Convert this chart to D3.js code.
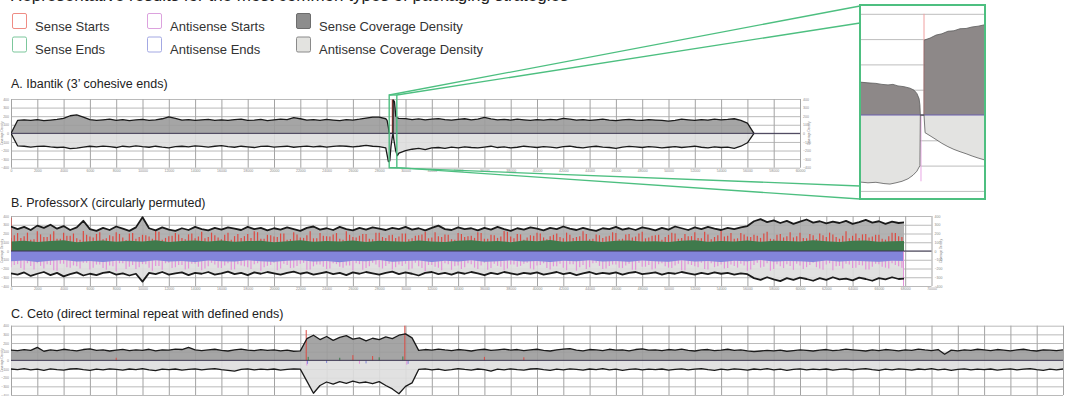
<!DOCTYPE html>
<meta charset="utf-8">
<script src="https://cdn.jsdelivr.net/npm/d3@7"></script>
<style>
body { margin: 0; background: #fff; }
text { font-family: Helvetica, Arial, "Liberation Sans", sans-serif; }
.grid .domain { display: none; }
.grid line { stroke: #9a9a9a; stroke-width: 0.8px; }
.grid text { font-size: 3.5px; fill: #8a8a8a; }
.ptitle { font-size: 12.5px; fill: #222; }
.legend text { font-size: 13px; fill: #333; }
</style>
<body>
<script>

// ---- data ----
var figureTitle = "Representative results for the most common types of packaging strategies";

var legendLabels = [
  ["Sense Starts", "Sense Ends"],
  ["Antisense Starts", "Antisense Ends"],
  ["Sense Coverage Density", "Antisense Coverage Density"]
];

var yTicks = [-400, -300, -200, -100, 0, 100, 200, 300, 400];
var gridStep = 2000;   // bp between vertical grid lines
var sampleStep = 500;  // bp between coverage samples

// A. Ibantik, coverage every 500 bp
var ibantikSense = [0,150,158,152,160,148,155,162,175,205,
  215,190,160,150,158,165,152,160,148,156,
  162,150,158,170,192,175,155,160,150,157,
  163,150,158,152,160,165,150,155,162,148,
  158,166,160,182,170,155,160,150,162,155,
  148,160,155,165,178,190,188,170,170,175,
  172,160,168,158,165,172,160,155,163,170,
  158,165,185,168,158,162,155,165,158,150,
  160,155,162,158,175,165,155,160,152,158,
  165,155,148,158,162,155,150,160,155,150,
  142,150,165,158,150,160,155,165,158,162,
  170,150,120,0];
var ibantikAntisense = [0,-145,-150,-160,-152,-148,-158,-165,-160,-178,
  -172,-160,-150,-158,-148,-155,-165,-150,-158,-145,
  -155,-162,-150,-160,-168,-155,-150,-158,-145,-152,
  -160,-150,-142,-155,-162,-150,-158,-165,-152,-148,
  -160,-155,-150,-162,-155,-148,-158,-150,-160,-152,
  -145,-150,-158,-150,-140,-150,-155,-170,-170,-230,
  -200,-185,-175,-190,-170,-165,-175,-160,-168,-158,
  -165,-170,-160,-150,-165,-158,-170,-162,-150,-158,
  -165,-155,-160,-168,-155,-150,-162,-170,-158,-150,
  -160,-165,-175,-160,-152,-158,-165,-155,-160,-170,
  -162,-155,-165,-158,-150,-162,-170,-158,-165,-160,
  -175,-150,-110,0];
// finer points around the cos site [bp, reads]
var ibantikCosSense = [[28600,150],[28700,70],[28760,0],[29050,0],[29060,390],[29160,370],[29260,200],[29380,180]];
var ibantikCosAntisense = [[28600,-250],[28700,-330],[28800,-320],[28900,-150],[29000,-40],[29050,0],[29100,-60],[29250,-200],[29380,-260]];
var ibantikSenseStarts = [[29000,395]];
var ibantikAntisenseStarts = [[28800,-330]];

// zoomed view of the cos site [bp, reads]
var insetRange = [28760, 29340];
var insetSense = [[28760,130],[28797,127],[28834,125],[28862,121],[28890,119],[28913,121],[28936,115],
  [28964,112],[28992,106],[29011,98],[29024,85],[29034,65],[29038,40],[29040,0],[29057,0],
  [29058,296],[29085,304],[29113,316],[29140,321],[29168,331],[29196,333],[29224,341],
  [29252,342],[29280,348],[29308,351],[29340,357]];
var insetAntisense = [[28760,-265],[28797,-268],[28834,-266],[28871,-271],[28899,-273],[28927,-268],
  [28955,-262],[28983,-252],[29006,-238],[29024,-222],[29038,-200],[29040,0],[29057,0],
  [29062,-70],[29085,-82],[29113,-97],[29140,-112],[29168,-125],[29196,-136],[29224,-145],
  [29252,-153],[29280,-162],[29308,-170],[29340,-178]];
var insetSenseStart = [[29057,400]];
var insetAntisenseStart = [[29043,-262]];

// B. ProfessorX, coverage every 500 bp
var professorXLength = 67900;
var professorXSense = [280,250,275,240,290,265,300,255,285,240,
  270,345,250,230,265,240,280,255,230,270,
  385,260,235,270,245,230,260,240,275,250,
  235,265,245,270,255,240,275,250,265,235,
  260,245,270,250,230,265,280,245,260,240,
  275,250,235,265,245,270,255,240,265,250,
  275,245,260,235,265,290,250,240,270,250,
  260,235,265,245,275,250,230,260,245,270,
  255,235,265,250,280,255,240,265,245,230,
  260,250,275,245,260,240,270,255,235,265,
  245,280,260,240,270,250,275,255,240,265,
  250,270,285,340,365,330,350,320,345,310,
  335,360,325,340,315,335,320,345,310,330,
  355,325,340,310,335,320,330];
var professorXAntisense = [-255,-270,-245,-285,-260,-240,-275,-250,-290,-265,
  -245,-280,-260,-275,-250,-240,-270,-255,-280,-260,
  -350,-250,-265,-240,-270,-255,-245,-275,-250,-260,
  -240,-270,-255,-235,-265,-250,-275,-245,-260,-240,
  -255,-270,-250,-235,-260,-245,-270,-255,-240,-265,
  -250,-275,-245,-260,-240,-255,-270,-250,-235,-265,
  -245,-260,-280,-250,-240,-265,-250,-270,-245,-260,
  -240,-255,-275,-250,-265,-240,-255,-270,-250,-260,
  -245,-270,-255,-240,-265,-250,-275,-255,-240,-265,
  -250,-260,-245,-270,-250,-240,-265,-255,-245,-270,
  -250,-260,-240,-255,-270,-250,-265,-245,-260,-250,
  -270,-255,-265,-310,-330,-300,-325,-345,-310,-330,
  -305,-320,-340,-310,-330,-300,-325,-315,-335,-305,
  -320,-340,-310,-325,-300,-320,-315];
// read starts, every 500 bp at offsets 0 and 250
var professorXSenseStarts = [180,150,210,135,190,160,225,140,175,200,
  130,185,155,215,145,170,195,125,205,160,
  180,140,220,150,175,190,135,200,165,145,
  210,155,185,130,195,170,150,215,140,180,
  160,200,135,190,150,225,145,175,165,205,
  130,185,155,195,140,210,160,180,150,200,
  135,175,190,145,215,160,185,130,195,170,
  150,205,140,180,165,220,145,190,155,175,
  200,135,185,160,210,150,170,195,140,180,
  165,215,135,190,155,200,145,175,185,160,
  210,140,195,170,150,220,135,180,165,205,
  145,190,160,175,200,140,185,155,215,170,
  150,195,135,180,210,160,175,145,200,190,
  155,185,140,170,205,160];
var professorXSenseStarts0 = [150,205,170,130,225,160,190,140,210,175,
  145,230,165,195,135,180,215,155,200,140,
  185,165,235,130,170,205,150,190,145,220,
  160,180,135,210,170,150,195,225,140,185,
  165,200,130,215,155,180,145,205,170,190,
  140,225,160,175,195,135,210,150,185,165,
  200,145,180,220,155,170,190,135,205,160,
  175,215,140,185,150,230,165,195,130,180,
  210,155,170,200,145,185,160,225,135,190,
  150,175,205,140,195,165,220,155,180,130,
  185,200,150,170,215,145,190,160,235,175,
  140,205,165,185,150,220,135,195,170,155,
  210,145,180,200,160,190,140,225,175,150,
  195,165,185,130,210,170];
var professorXAntisenseStarts = [-160,-195,-140,-210,-170,-150,-220,-145,-185,-165,
  -200,-135,-190,-155,-215,-175,-140,-205,-160,-185,
  -150,-225,-170,-140,-195,-160,-210,-145,-180,-200,
  -135,-190,-165,-215,-150,-175,-205,-140,-185,-160,
  -220,-145,-195,-170,-135,-210,-155,-180,-200,-150,
  -190,-165,-140,-215,-175,-155,-200,-145,-185,-170,
  -210,-135,-195,-160,-180,-220,-150,-175,-205,-140,
  -190,-165,-215,-145,-180,-200,-155,-170,-135,-210,
  -160,-195,-175,-145,-220,-150,-185,-205,-140,-170,
  -200,-155,-190,-165,-215,-135,-180,-210,-150,-175,
  -195,-145,-220,-160,-185,-205,-140,-175,-200,-155,
  -190,-165,-210,-135,-180,-225,-150,-195,-170,-145,
  -205,-160,-185,-215,-140,-175,-200,-155,-190,-165,
  -210,-145,-180,-200,-160,-190];
var professorXAntisenseStarts0 = [-185,-150,-215,-170,-140,-200,-160,-225,-145,-190,
  -175,-135,-210,-155,-195,-165,-230,-140,-180,-205,
  -150,-190,-170,-215,-135,-185,-160,-200,-145,-220,
  -175,-155,-195,-140,-210,-165,-185,-150,-225,-170,
  -135,-200,-160,-190,-145,-215,-175,-155,-205,-140,
  -180,-165,-220,-150,-195,-135,-185,-170,-210,-155,
  -145,-200,-175,-230,-160,-190,-140,-215,-165,-185,
  -150,-205,-135,-195,-170,-220,-155,-180,-145,-200,
  -165,-140,-210,-175,-190,-150,-225,-160,-185,-135,
  -205,-170,-155,-195,-145,-215,-180,-160,-200,-140,
  -190,-165,-220,-150,-175,-135,-210,-185,-155,-195,
  -170,-145,-225,-160,-190,-140,-205,-175,-150,-215,
  -165,-185,-135,-200,-155,-220,-170,-145,-195,-160,
  -210,-180,-150,-190,-140,-175];
// read ends, every 1000 bp
var professorXSenseEnds = [108,118,104,115,122,100,112,120,106,116,
  110,124,102,114,119,108,121,105,113,117,
  100,111,123,107,115,109,120,104,118,112,
  106,121,110,103,116,122,108,114,101,119,
  111,125,107,113,118,104,116,120,109,112,
  102,117,123,106,115,110,120,105,118,113,
  108,122,111,104,116,119,107,112,115];
var professorXAntisenseEnds = [-118,-108,-125,-112,-104,-120,-115,-126,-110,-117,
  -122,-106,-119,-113,-127,-109,-116,-121,-105,-118,
  -124,-111,-107,-120,-114,-128,-110,-117,-103,-122,
  -115,-109,-125,-112,-119,-106,-123,-116,-108,-121,
  -113,-126,-110,-118,-105,-120,-114,-124,-109,-117,
  -122,-107,-119,-115,-127,-111,-116,-104,-121,-113,
  -118,-125,-108,-120,-112,-117,-123,-110,-115];
var professorXTermini = [[0,380]];
var professorXAntisenseTermini = [[67880,-400]];

// C. Ceto, coverage every 500 bp
var cetoSense = [118,112,125,115,150,105,120,112,128,118,
  110,125,132,115,120,108,118,126,112,120,
  115,128,110,122,118,130,125,150,122,112,
  120,128,115,108,122,130,118,112,125,115,
  120,110,118,105,110,250,290,240,275,230,
  265,285,245,260,225,255,240,270,250,290,
  305,260,115,125,118,130,120,112,125,118,
  108,120,128,115,122,130,118,125,112,120,
  128,115,108,122,130,135,118,110,125,120,
  112,128,118,122,110,125,132,118,120,112,
  125,118,130,115,108,120,125,112,118,128,
  115,120,110,102,108,115,110,118,105,112,
  120,115,108,118,125,112,118,130,122,115,
  108,120,112,125,118,110,122,115,130,120,
  112,125,70,118,110,122,115,128,120,112,
  125,118,110,120,128,115,108,122,118,112,120];
var cetoAntisense = [-100,-108,-95,-110,-102,-115,-98,-106,-112,-100,
  -95,-108,-115,-102,-110,-98,-105,-112,-100,-108,
  -95,-110,-118,-102,-108,-100,-112,-105,-98,-110,
  -102,-95,-108,-115,-125,-105,-98,-110,-102,-108,
  -100,-112,-105,-98,-102,-240,-380,-290,-250,-275,
  -245,-265,-240,-260,-250,-270,-245,-290,-330,-385,
  -300,-260,-105,-98,-110,-102,-115,-108,-95,-105,
  -112,-100,-108,-125,-102,-110,-98,-106,-112,-100,
  -95,-108,-115,-102,-110,-98,-105,-112,-100,-108,
  -95,-110,-102,-115,-105,-98,-110,-102,-108,-100,
  -112,-105,-98,-110,-102,-95,-108,-115,-102,-110,
  -98,-105,-112,-100,-108,-95,-110,-102,-115,-105,
  -98,-110,-102,-108,-100,-112,-105,-98,-110,-102,
  -95,-108,-115,-102,-110,-98,-105,-112,-100,-108,
  -95,-110,-102,-115,-105,-98,-110,-102,-108,-100,
  -112,-105,-98,-110,-102,-95,-108,-115,-102,-110,-100];
var cetoSenseStarts = [[22450,350],[29950,400],[8000,30],[26000,60],[27500,50],[36000,40],[39000,35]];
var cetoSenseEnds = [[22600,40],[25000,30],[28000,35],[29800,45]];
var cetoAntisenseStarts = [[22500,-60],[26500,-40],[30100,-50]];
var cetoAntisenseEnds = [[22550,-40],[24000,-30],[27000,-35],[30200,-40]];

// ---- colours ----
var col = {
  senseStart: "#dc4a42", senseEnd: "#3f7a4c",
  antiStart: "#e393da", antiEnd: "#8385da",
  senseFill: "#9b9b9b", antiFill: "#dedede",
  green: "#4dbf80"
};

var width = 1066, height = 396;
var plotLeft = 11, cellWidth = 26.3;

var svg = d3.select("body").append("svg")
    .attr("width", width)
    .attr("height", height);

// figure title, cut off by the top edge as in the source
svg.append("text")
    .attr("x", 10).attr("y", 0.8)
    .style("font-size", "17px").style("fill", "#222")
    .text(figureTitle);

// legend
var legendOutline = [[ "#ef8c84", "#7cc79c"], ["#dca2de", "#a3a8e3"], ["#6d6d6d", "#8a8a8a"]];
var legendFill = [["#fff", "#fff"], ["#fff", "#fff"], ["#8d8d8d", "#e3e3e0"]];
var legendX = [12, 147, 296];
var legend = svg.append("g").attr("class", "legend");
legendLabels.forEach(function(pair, c) {
  pair.forEach(function(label, r) {
    legend.append("rect")
        .attr("x", legendX[c] + 0.5).attr("y", 13.5 + r * 23.5)
        .attr("width", 14).attr("height", 15).attr("rx", 1.5)
        .style("fill", legendFill[c][r])
        .style("stroke", legendOutline[c][r]).style("stroke-width", 1);
    legend.append("text")
        .attr("x", legendX[c] + 23).attr("y", 30.5 + r * 23.5)
        .text(label);
  });
});

function series(values, step, offset) {
  return values.map(function(v, i) { return [i * step + (offset || 0), v]; });
}

function withDetail(values, detail) {
  var lo = detail[0][0], hi = detail[detail.length - 1][0];
  return series(values, sampleStep)
      .filter(function(d) { return d[0] < lo || d[0] > hi; })
      .concat(detail)
      .sort(function(a, b) { return a[0] - b[0]; });
}

function drawPanel(p) {
  var right = plotLeft + p.intervals * cellWidth;
  var x = d3.scaleLinear().domain([0, p.intervals * gridStep]).range([plotLeft, right]);
  var y = d3.scaleLinear().domain([-400, 400]).range([p.bottom, p.top]);
  var g = svg.append("g");

  g.append("text").attr("class", "ptitle")
      .attr("x", 11).attr("y", p.titleY).text(p.title);

  g.append("g").attr("class", "grid")
      .attr("transform", "translate(0," + p.bottom + ")")
      .call(d3.axisBottom(x)
          .tickValues(d3.range(0, p.intervals * gridStep + 1, gridStep))
          .tickSize(-(p.bottom - p.top)).tickPadding(2)
          .tickFormat(p.hideBpLabels ? "" : d3.format("d")))
      .selectAll("line").style("stroke", "#8c8c8c");
  g.append("g").attr("class", "grid")
      .attr("transform", "translate(" + plotLeft + ",0)")
      .call(d3.axisLeft(y).tickValues(yTicks).tickSize(-(right - plotLeft)).tickPadding(2))
      .selectAll("line").style("stroke", "#a8a8a8");
  g.append("g").attr("class", "grid")
      .attr("transform", "translate(" + right + ",0)")
      .call(d3.axisRight(y).tickValues(yTicks).tickSize(0).tickPadding(3));
  [plotLeft - 8, right + 10].forEach(function(ax) {
    g.append("text")
        .attr("transform", "translate(" + ax + "," + y(0) + ") rotate(-90)")
        .attr("text-anchor", "middle")
        .style("font-size", "3px").style("fill", "#8a8a8a")
        .text("Coverage Density");
  });

  var clipId = "clip" + p.id;
  svg.append("clipPath").attr("id", clipId).append("rect")
      .attr("x", x(0)).attr("y", p.top - 30)
      .attr("width", x(p.length) - x(0)).attr("height", p.bottom - p.top + 60);
  var d = g.append("g").attr("clip-path", "url(#" + clipId + ")");

  var area = d3.area().x(function(q) { return x(q[0]); })
      .y0(y(0)).y1(function(q) { return y(q[1]); });
  var line = d3.line().x(function(q) { return x(q[0]); })
      .y(function(q) { return y(q[1]); });

  d.append("path").datum(p.sense).attr("d", area)
      .style("fill", p.senseFill || col.senseFill).style("opacity", 0.9);
  d.append("path").datum(p.antisense).attr("d", area)
      .style("fill", col.antiFill).style("opacity", 0.9);

  function spikes(data, colour, w) {
    d.append("g").selectAll("line").data(data).enter().append("line")
        .attr("x1", function(q) { return x(q[0]); })
        .attr("x2", function(q) { return x(q[0]); })
        .attr("y1", y(0))
        .attr("y2", function(q) { return y(q[1]); })
        .style("stroke", colour).style("stroke-width", w);
  }
  if (p.senseStarts) spikes(p.senseStarts, col.senseStart, p.spikeWidth || 1);
  if (p.senseEndsBand) d.append("path").datum(p.senseEndsBand).attr("d", area).style("fill", col.senseEnd);
  if (p.senseEnds) spikes(p.senseEnds, col.senseEnd, 1);
  if (p.antiStarts) spikes(p.antiStarts, col.antiStart, p.spikeWidth || 1);
  if (p.antiEndsBand) d.append("path").datum(p.antiEndsBand).attr("d", area).style("fill", col.antiEnd);
  if (p.antiEnds) spikes(p.antiEnds, col.antiEnd, 1);
  if (p.termini) spikes(p.termini, col.senseStart, 1.2);
  if (p.antiTermini) spikes(p.antiTermini, col.antiStart, 1.2);

  g.append("line")
      .attr("x1", plotLeft).attr("x2", right)
      .attr("y1", y(0)).attr("y2", y(0))
      .style("stroke", "#3a3550").style("stroke-width", 1);

  [p.sense, p.antisense].forEach(function(s) {
    d.append("path").datum(s).attr("d", line)
        .style("fill", "none").style("stroke", "#1a1a1a")
        .style("stroke-width", p.lineWidth).style("stroke-linejoin", "round");
  });
  return {x: x, y: y};
}

var panelA = drawPanel({
  id: "A", title: "A. Ibantik (3\u2019 cohesive ends)", titleY: 88.3,
  intervals: 30, top: 99, bottom: 167.7, length: 60000,
  sense: withDetail(ibantikSense, ibantikCosSense),
  antisense: withDetail(ibantikAntisense, ibantikCosAntisense),
  senseStarts: ibantikSenseStarts, antiStarts: ibantikAntisenseStarts,
  spikeWidth: 1.2, lineWidth: 1.3
});

drawPanel({
  id: "B", title: "B. ProfessorX (circularly permuted)", titleY: 207.3,
  intervals: 35, top: 216, bottom: 286, length: professorXLength,
  sense: series(professorXSense, sampleStep),
  antisense: series(professorXAntisense, sampleStep),
  senseFill: "#ababab",
  senseStarts: series(professorXSenseStarts, sampleStep, 250)
      .concat(series(professorXSenseStarts0, sampleStep, 0)),
  antiStarts: series(professorXAntisenseStarts, sampleStep, 250)
      .concat(series(professorXAntisenseStarts0, sampleStep, 0)),
  senseEndsBand: series(professorXSenseEnds, 1000),
  antiEndsBand: series(professorXAntisenseEnds, 1000),
  termini: professorXTermini, antiTermini: professorXAntisenseTermini,
  spikeWidth: 1.2, lineWidth: 1.8
});

drawPanel({
  id: "C", title: "C. Ceto (direct terminal repeat with defined ends)", titleY: 317.7,
  intervals: 40, top: 325.7, bottom: 395, length: 80000, hideBpLabels: true,
  sense: series(cetoSense, sampleStep),
  antisense: series(cetoAntisense, sampleStep),
  senseStarts: cetoSenseStarts, senseEnds: cetoSenseEnds,
  antiStarts: cetoAntisenseStarts, antiEnds: cetoAntisenseEnds,
  spikeWidth: 1, lineWidth: 1.3
});

// ---- zoom inset of the Ibantik cos site ----
var inset = {x: 860, y: 5, w: 125, h: 194};
var xi = d3.scaleLinear().domain(insetRange).range([inset.x, inset.x + inset.w]);
var yi = d3.scaleLinear().domain([-300, 400]).range([190.9, 13.8]);

// connectors from the highlighted window in panel A
var bx0 = panelA.x(insetRange[0]), bx1 = panelA.x(insetRange[1]);
var bTop = panelA.y(400) - 4, bBot = panelA.y(-400);
var connectors = [
  [bx0, bTop, inset.x, inset.y + 1],
  [bx1, bTop, inset.x, inset.y + 18],
  [bx0, bBot, inset.x, inset.y + inset.h - 13],
  [bx1, bBot, inset.x, inset.y + inset.h]
];
svg.append("g").selectAll("line").data(connectors).enter().append("line")
    .attr("x1", function(c) { return c[0]; }).attr("y1", function(c) { return c[1]; })
    .attr("x2", function(c) { return c[2]; }).attr("y2", function(c) { return c[3]; })
    .style("stroke", col.green).style("stroke-width", 1.3);
svg.append("rect")
    .attr("x", bx0).attr("y", bTop).attr("width", bx1 - bx0).attr("height", bBot - bTop)
    .style("fill", "none").style("stroke", col.green).style("stroke-width", 1.4);

var ig = svg.append("g");
ig.append("rect").attr("x", inset.x).attr("y", inset.y)
    .attr("width", inset.w).attr("height", inset.h).style("fill", "#fff");
ig.append("g").attr("class", "grid")
    .attr("transform", "translate(" + inset.x + ",0)")
    .call(d3.axisLeft(yi).tickValues(d3.range(-300, 401, 100)).tickSize(-inset.w).tickFormat(""))
    .selectAll("line").style("stroke", "#bdbdbd").style("stroke-width", 1);

var iArea = d3.area().x(function(q) { return xi(q[0]); })
    .y0(yi(0)).y1(function(q) { return yi(q[1]); });
var iLine = d3.line().x(function(q) { return xi(q[0]); })
    .y(function(q) { return yi(q[1]); });
ig.append("path").datum(insetSense).attr("d", iArea).style("fill", "#8d8888");
ig.append("path").datum(insetAntisense).attr("d", iArea).style("fill", "#e3e3e1");
[[insetSenseStart, "#f0a0a0"], [insetAntisenseStart, "#e8a6e4"]].forEach(function(s) {
  ig.append("g").selectAll("line").data(s[0]).enter().append("line")
      .attr("x1", function(q) { return xi(q[0]); }).attr("x2", function(q) { return xi(q[0]); })
      .attr("y1", yi(0)).attr("y2", function(q) { return yi(q[1]); })
      .style("stroke", s[1]).style("stroke-width", 1);
});
ig.append("line")
    .attr("x1", inset.x).attr("x2", inset.x + inset.w)
    .attr("y1", yi(0)).attr("y2", yi(0))
    .style("stroke", "#6a5fae").style("stroke-width", 1.2);
[insetSense, insetAntisense].forEach(function(s) {
  ig.append("path").datum(s).attr("d", iLine)
      .style("fill", "none").style("stroke", "#5a5a5a").style("stroke-width", 0.8);
});
ig.append("rect").attr("x", inset.x).attr("y", inset.y)
    .attr("width", inset.w).attr("height", inset.h)
    .style("fill", "none").style("stroke", col.green).style("stroke-width", 2);

</script>
</body>
